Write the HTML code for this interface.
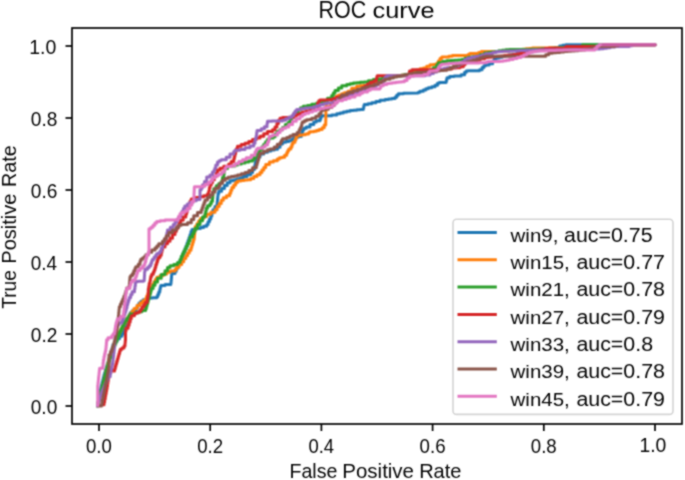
<!DOCTYPE html><html><head><meta charset="utf-8"><style>html,body{margin:0;padding:0;background:#fff;width:685px;height:480px;overflow:hidden}svg{display:block}text{font-family:"Liberation Sans",sans-serif;fill:#000}</style></head><body>
<svg width="685" height="480" viewBox="0 0 685 480">
<defs><filter id="b" x="0" y="0" width="685" height="480" filterUnits="userSpaceOnUse" color-interpolation-filters="sRGB"><feConvolveMatrix order="3" kernelMatrix="1 2 1 2 4 2 1 2 1" edgeMode="duplicate" preserveAlpha="false"/></filter><filter id="c" x="0" y="0" width="685" height="480" filterUnits="userSpaceOnUse" color-interpolation-filters="sRGB"><feConvolveMatrix order="3" kernelMatrix="1 2 1 2 8 2 1 2 1" edgeMode="duplicate" preserveAlpha="false"/></filter></defs><g filter="url(#b)">
<rect width="685" height="480" fill="#fff"/>
<polyline points="97.5,406 97.5,404.667 98,404.667 98,402 98.5,402 98.5,399.333 99,399.333 99,396.75 99.5,396.75 99.5,394.25 100,394.25 100,391.75 100.5,391.75 100.5,389.25 101,389.25 101,386.8 101.6,386.8 101.6,384.4 102.2,384.4 102.2,382 102.8,382 102.8,379.6 103.4,379.6 103.4,377.2 104,377.2 104,374.75 104.75,374.75 104.75,372.25 105.5,372.25 105.5,369.75 106.25,369.75 106.25,367.25 107,367.25 107,364.75 107.75,364.75 107.75,362.25 108.5,362.25 108.5,359.75 109.25,359.75 109.25,357.25 110,357.25 110,354.75 110.75,354.75 110.75,352.25 111.5,352.25 111.5,349.75 112.25,349.75 112.25,347.25 113,347.25 113,344.5 115,344.5 115,341.5 117,341.5 117,338.75 119.45,338.75 119.45,336.25 121.9,336.25 121.9,333.95 122.95,333.95 122.95,331.85 124,331.85 124,329.5 125,329.5 125,326.9 126,326.9 126,324.3 127.05,324.3 127.05,321.7 128.1,321.7 128.1,319.183 128.8,319.183 128.8,316.75 129.5,316.75 129.5,314.317 130.2,314.317 130.2,312.7 132.2,312.7 132.2,310.75 135.8,310.75 135.8,307.9 137.4,307.9 137.4,305.3 139,305.3 139,302.95 141,302.95 141,301.35 143.1,301.35 143.1,299.8 146.2,299.8 146.2,298.525 149.35,298.525 149.35,297.975 152.5,297.975 152.5,297.7 156.7,297.7 156.7,296.65 157.725,296.65 157.725,294.55 158.75,294.55 158.75,291.95 159.8,291.95 159.8,289.362 160.3,289.362 160.3,287.287 160.8,287.287 160.8,285.375 165,285.375 165,284.5 170.8,284.5 170.8,283.225 171.05,283.225 171.05,280.675 171.3,280.675 171.3,278.125 171.55,278.125 171.55,275.575 171.8,275.575 171.8,273.4 175,273.4 175,271.188 176.25,271.188 176.25,268.562 177.5,268.562 177.5,265.938 178.75,265.938 178.75,263.312 180,263.312 180,260.8 181,260.8 181,258.4 182,258.4 182,256 183,256 183,253.6 184,253.6 184,251.2 185,251.2 185,248.625 186,248.625 186,245.875 187,245.875 187,243.125 188,243.125 188,240.375 189,240.375 189,237.625 190,237.625 190,234.688 191,234.688 191,231.562 192,231.562 192,229.475 196.2,229.475 196.2,228.425 200.4,228.425 200.4,227.375 203.55,227.375 203.55,226.325 206.7,226.325 206.7,224.417 208.067,224.417 208.067,221.65 209.433,221.65 209.433,218.883 210.8,218.883 210.8,215.938 211.85,215.938 211.85,212.812 212.9,212.812 212.9,209.688 214.95,209.688 214.95,206.562 217,206.562 217,203.7 217.25,203.7 217.25,201.1 217.5,201.1 217.5,198.5 217.75,198.5 217.75,195.9 218,195.9 218,193.55 218.8,193.55 218.8,191.125 221.6,191.125 221.6,188.375 224.4,188.375 224.4,185.575 227.2,185.575 227.2,182.725 230,182.725 230,180.825 233.3,180.825 233.3,179.875 236.6,179.875 236.6,178.925 239.9,178.925 239.9,177.975 243.2,177.975 243.2,176.575 246.95,176.575 246.95,174.725 250.7,174.725 250.7,172.4 252.55,172.4 252.55,169.6 254.4,169.6 254.4,167.025 254.875,167.025 254.875,164.675 255.35,164.675 255.35,162.325 255.825,162.325 255.825,159.975 256.3,159.975 256.3,156.9 260,156.9 260,154.075 263.75,154.075 263.75,152.225 267.5,152.225 267.5,150.875 270.833,150.875 270.833,150.025 274.167,150.025 274.167,149.175 277.5,149.175 277.5,147.188 280,147.188 280,144.062 282.5,144.062 282.5,142.188 285.625,142.188 285.625,141.562 288.75,141.562 288.75,140.625 292.5,140.625 292.5,138.75 295,138.75 295,137.188 298.125,137.188 298.125,136.562 301.25,136.562 301.25,135 301.875,135 301.875,132.5 302.5,132.5 302.5,130 303.75,130 303.75,128.125 306.25,128.125 306.25,126.875 310,126.875 310,124.375 313.75,124.375 313.75,121.875 316.25,121.875 316.25,120.625 320,120.625 320,118.95 320.85,118.95 320.85,116.85 321.7,116.85 321.7,115.8 331.7,115.8 331.7,115 336.7,115 336.7,113.775 340,113.775 340,112.925 343.3,112.925 343.3,112.075 346.65,112.075 346.65,111.225 350,111.225 350,110.6 353.35,110.6 353.35,110.2 356.7,110.2 356.7,109.8 360,109.8 360,109.4 363.3,109.4 363.3,108.15 363.75,108.15 363.75,106.05 364.2,106.05 364.2,104.575 367.95,104.575 367.95,103.725 371.7,103.725 371.7,102.675 375.85,102.675 375.85,101.425 380,101.425 380,100.2 385,100.2 385,99.383 388.333,99.383 388.333,98.95 391.667,98.95 391.667,98.517 395,98.517 395,97.275 396.65,97.275 396.65,95.225 398.3,95.225 398.3,93.75 403.3,93.75 403.3,93.3 418.3,92.9 418.3,92.3 420,92.3 420,91.25 423.3,91.25 423.3,90 425.8,90 425.8,88.75 428.3,88.75 428.3,87.7 431.7,87.7 431.7,86.675 435,86.675 435,85.225 437.5,85.225 437.5,83.35 439.2,83.35 439.2,82.5 446,82.5 446,81.525 446.5,81.525 446.5,79.575 447,79.575 447,77.7 449.6,77.7 449.6,76.4 454,76.4 454,76 461.1,76 461.1,74.65 464.6,74.65 464.6,72.2 466.3,72.2 466.3,71.1 469,70.7 479.5,70.7 479.5,69.8 482.1,69.8 482.1,67.6 483.9,67.6 483.9,65.85 485.6,65.85 485.6,65 489.1,65 489.1,63.7 492.6,63.7 492.6,61.05 494.4,61.05 494.4,58.85 496.1,58.85 496.1,58 499.067,58 499.067,57.2 502.033,57.2 502.033,56.4 505,56.4 505,55.688 508.75,55.688 508.75,55.062 512.5,55.062 512.5,54.438 516.25,54.438 516.25,53.812 520,53.812 520,53.25 523.333,53.25 523.333,52.75 526.667,52.75 526.667,52.25 530,52.25 530,51.75 533.333,51.75 533.333,51.25 536.667,51.25 536.667,50.75 540,50.75 540,50.25 543.75,50.25 543.75,49.75 547.5,49.75 547.5,49.25 551.25,49.25 551.25,48.75 555,48.75 555,47.5 559.6,47.5 559.6,46.05 562.7,46.05 562.7,45.15 565.8,45.15 565.8,44.7 655,44.7" fill="none" stroke="#1f77b4" stroke-width="3.0" stroke-linejoin="round" stroke-linecap="round"/>
<polyline points="97.5,406 97.5,404.75 98.125,404.75 98.125,402.25 98.75,402.25 98.75,399.75 99.375,399.75 99.375,397.25 100,397.25 100,394.625 100.75,394.625 100.75,391.875 101.5,391.875 101.5,389.125 102.25,389.125 102.25,386.375 103,386.375 103,383.7 103.6,383.7 103.6,381.1 104.2,381.1 104.2,378.5 104.8,378.5 104.8,375.9 105.4,375.9 105.4,373.3 106,373.3 106,370.8 106.6,370.8 106.6,368.4 107.2,368.4 107.2,366 107.8,366 107.8,363.6 108.4,363.6 108.4,361.2 109,361.2 109,358.8 109.8,358.8 109.8,356.4 110.6,356.4 110.6,354 111.4,354 111.4,351.6 112.2,351.6 112.2,349.2 113,349.2 113,346.75 114,346.75 114,344.25 115,344.25 115,341.75 116,341.75 116,339.25 117,339.25 117,336.75 118.25,336.75 118.25,334.25 119.5,334.25 119.5,331.75 120.75,331.75 120.75,329.25 122,329.25 122,326.75 123.5,326.75 123.5,324.25 125,324.25 125,321.75 126.5,321.75 126.5,319.25 128,319.25 128,316.667 130,316.667 130,314 132,314 132,311.333 134,311.333 134,308.5 137,308.5 137,305.5 140,305.5 140,302.9 142.8,302.9 142.8,300.7 145.6,300.7 145.6,298.4 146.7,298.4 146.7,296 147.8,296 147.8,293.6 148.9,293.6 148.9,291.2 150,291.2 150,288.8 151.36,288.8 151.36,286.4 152.72,286.4 152.72,284 154.08,284 154.08,281.6 155.44,281.6 155.44,279.2 156.8,279.2 156.8,277.188 160.1,277.188 160.1,275.562 163.4,275.562 163.4,273.938 166.7,273.938 166.7,272.312 170,272.312 170,271.05 175,271.05 175,269.55 176.5,269.55 176.5,267.2 179.1,267.2 179.1,264.6 181.7,264.6 181.7,261.725 183.75,261.725 183.75,258.575 185.8,258.575 185.8,255.625 187.533,255.625 187.533,252.875 189.267,252.875 189.267,250.125 191,250.125 191,247.444 191.8,247.444 191.8,244.831 192.6,244.831 192.6,242.219 193.4,242.219 193.4,239.606 194.2,239.606 194.2,237 194.45,237 194.45,234.4 194.7,234.4 194.7,231.8 194.95,231.8 194.95,229.2 195.2,229.2 195.2,226.517 196.933,226.517 196.933,223.75 198.667,223.75 198.667,220.983 200.4,220.983 200.4,218.55 203.55,218.55 203.55,216.45 206.7,216.45 206.7,214.363 210.85,214.363 210.85,212.288 215,212.288 215,209.688 217.1,209.688 217.1,206.562 219.2,206.562 219.2,203.438 221.25,203.438 221.25,200.312 223.3,200.312 223.3,197.713 226.45,197.713 226.45,195.637 229.6,195.637 229.6,193.15 230.75,193.15 230.75,190.25 231.9,190.25 231.9,187.55 233.767,187.55 233.767,185.05 235.633,185.05 235.633,182.55 237.5,182.55 237.5,181.062 240.8,181.062 240.8,180.588 244.1,180.588 244.1,180.113 247.4,180.113 247.4,179.638 250.7,179.638 250.7,178.467 253.8,178.467 253.8,176.6 256.9,176.6 256.9,174.733 260,174.733 260,172.55 261.9,172.55 261.9,170.05 263.8,170.05 263.8,167.55 265.7,167.55 265.7,164.4 269.4,164.4 269.4,161.875 273.35,161.875 273.35,160.625 277.3,160.625 277.3,158.95 279.4,158.95 279.4,157.65 282,157.65 282,157.15 284.6,157.15 284.6,155.325 286.7,155.325 286.7,152.725 287.7,152.725 287.7,150.65 288.75,150.65 288.75,149.05 290.8,149.05 290.8,146.95 291.9,146.95 291.9,144.35 292.9,144.35 292.9,142.275 295,142.275 295,139.675 296,139.675 296,137.05 297.1,137.05 297.1,135.5 300.2,135.5 300.2,134.875 302.8,134.875 302.8,134.625 305.4,134.625 305.4,133.95 308.5,133.95 308.5,132.65 309.6,132.65 309.6,131.65 313.75,131.65 313.75,131.125 316.375,131.125 316.375,130.575 319,130.575 319,129.525 322.1,129.525 322.1,127.725 324.2,127.725 324.2,125.1 325.7,125.1 325.7,123.5 326,107 326,106.25 331,106.25 331,104.125 332,104.125 332,101.375 333,101.375 333,98.375 336.1,98.375 336.1,96.125 338.6,96.125 338.6,94.875 341.75,94.875 341.75,93.625 344.25,93.625 344.25,92.7 348,92.7 348,91.2 351.7,91.2 351.7,88.35 356.7,88.35 356.7,86.25 360,86.25 360,85.667 363.333,85.667 363.333,85.4 366.667,85.4 366.667,85.133 370,85.133 370,84.175 374.15,84.175 374.15,82.525 378.3,82.525 378.3,81.075 381.65,81.075 381.65,79.825 385,79.825 385,77.95 390,77.95 390,76.487 393.75,76.487 393.75,76.062 397.5,76.062 397.5,75.638 401.25,75.638 401.25,75.213 405,75.213 405,74.375 409.15,74.375 409.15,73.125 413.3,73.125 413.3,71.675 416.65,71.675 416.65,70.025 420,70.025 420,68.775 423.35,68.775 423.35,67.925 426.7,67.925 426.7,66.25 430,66.25 430,64.8 433.35,64.8 433.35,64.4 436.7,64.4 436.7,63.15 438.35,63.15 438.35,61.05 440,61.05 440,58.55 441.8,58.55 441.8,57.1 448.8,57.1 448.8,56.25 452.3,56.25 452.3,55.4 468.1,55.4 468.1,54.5 469.8,54.5 469.8,53.6 478.6,53.6 478.6,52.5 481.2,52.5 481.2,51.4 496.1,51.4 506.5,51.2 506.5,51.017 509.722,51.017 509.722,50.65 512.944,50.65 512.944,50.283 516.167,50.283 516.167,49.917 519.389,49.917 519.389,49.55 522.611,49.55 522.611,49.183 525.833,49.183 525.833,48.817 529.056,48.817 529.056,48.45 532.278,48.45 532.278,48.083 535.5,48.083 535.5,47.9 548.6,47.9 548.6,47.862 551.9,47.862 551.9,47.787 555.2,47.787 555.2,47.712 558.5,47.712 558.5,47.637 561.8,47.637 561.8,47.562 565.1,47.562 565.1,47.487 568.4,47.487 568.4,47.412 571.7,47.412 571.7,47.337 575,47.337 575,47.3 600,47.3 600,46.65 603,46.65 603,45.35 606,45.35 606,44.7 655,44.7" fill="none" stroke="#ff7f0e" stroke-width="3.0" stroke-linejoin="round" stroke-linecap="round"/>
<polyline points="97.5,406 97.5,404.625 98.125,404.625 98.125,401.875 98.75,401.875 98.75,399.125 99.375,399.125 99.375,396.375 100,396.375 100,393.625 100.75,393.625 100.75,390.875 101.5,390.875 101.5,388.125 102.25,388.125 102.25,385.375 103,385.375 103,382.8 103.6,382.8 103.6,380.4 104.2,380.4 104.2,378 104.8,378 104.8,375.6 105.4,375.6 105.4,373.2 106,373.2 106,370.75 106.75,370.75 106.75,368.25 107.5,368.25 107.5,365.75 108.25,365.75 108.25,363.25 109,363.25 109,360.75 109.75,360.75 109.75,358.25 110.5,358.25 110.5,355.75 111.25,355.75 111.25,353.25 112,353.25 112,350.75 113,350.75 113,348.25 114,348.25 114,345.75 115,345.75 115,343.25 116,343.25 116,340.75 117,340.75 117,338.25 118,338.25 118,335.75 119,335.75 119,333.25 120,333.25 120,330.75 121.25,330.75 121.25,328.25 122.5,328.25 122.5,325.75 123.75,325.75 123.75,323.25 125,323.25 125,320.767 126.867,320.767 126.867,318.3 128.733,318.3 128.733,315.833 130.6,315.833 130.6,314.025 134.35,314.025 134.35,312.875 138.1,312.875 138.1,311.725 141.85,311.725 141.85,310.575 145.6,310.575 145.6,308.75 146.306,308.75 146.306,306.25 147.013,306.25 147.013,303.75 147.719,303.75 147.719,301.25 148.425,301.25 148.425,298.75 149.131,298.75 149.131,296.25 149.838,296.25 149.838,293.75 150.544,293.75 150.544,291.25 151.25,291.25 151.25,288.438 153.125,288.438 153.125,285.312 155,285.312 155,281.875 157.5,281.875 157.5,278.125 161.25,278.125 161.25,274.375 165,274.375 165,270.625 167.5,270.625 167.5,267.5 170,267.5 170,265.625 173.75,265.625 173.75,264.375 177.5,264.375 177.5,262.5 180,262.5 180,259.375 181.25,259.375 181.25,256.25 182.5,256.25 182.5,253.75 183.75,253.75 183.75,251.25 185,251.25 185,248.75 186.25,248.75 186.25,246.25 187.5,246.25 187.5,243.75 188.75,243.75 188.75,240.625 190,240.625 190,236.875 192.5,236.875 192.5,233.75 193.75,233.75 193.75,231.25 195,231.25 195,228.125 197.5,228.125 197.5,224.375 200,224.375 200,220.625 202.5,220.625 202.5,216.875 205,216.875 205,213.75 205.625,213.75 205.625,211.25 206.25,211.25 206.25,208.125 207.5,208.125 207.5,205.625 210,205.625 210,203.75 211.25,203.75 211.25,201.25 212.5,201.25 212.5,198.438 212.8,198.438 212.8,195.312 213.1,195.312 213.1,191.875 213.75,191.875 213.75,188.75 216.25,188.75 216.25,185.625 218.75,185.625 218.75,183.75 220,183.5 220,183 221.7,183 221.7,180.625 222.5,180.625 222.5,177.5 223.75,177.5 223.75,174.688 224.075,174.688 224.075,171.562 224.4,171.562 224.4,168.45 227.5,168.45 227.5,166.575 231.25,166.575 231.25,165.925 235,165.925 235,165 237.5,165 237.5,163.925 241.25,163.925 241.25,162.975 245,162.975 245,162.025 248.75,162.025 248.75,161.075 252.5,161.075 252.5,159.367 254.4,159.367 254.4,156.9 256.3,156.9 256.3,154.433 258.2,154.433 258.2,151.933 260.067,151.933 260.067,149.4 261.933,149.4 261.933,146.867 263.8,146.867 263.8,144.35 265.667,144.35 265.667,141.85 267.533,141.85 267.533,139.35 269.4,139.35 269.4,138.1 273.2,138.1 273.2,136.7 275.1,136.7 275.1,133.9 277,133.9 277,131.575 279.75,131.575 279.75,129.725 282.5,129.725 282.5,127.375 285.35,127.375 285.35,124.525 288.2,124.525 288.2,122.4 290,122.4 290,120.3 291.667,120.3 291.667,117.5 293.333,117.5 293.333,114.7 295,114.7 295,112.2 297.767,112.2 297.767,110 300.533,110 300.533,107.8 303.3,107.8 303.3,106.275 307.5,106.275 307.5,105.425 311.7,105.425 311.7,104.15 316.7,104.15 316.7,103.1 320,103.1 320,102.7 323.3,102.7 323.3,101.05 327.5,101.05 327.5,98.15 331.7,98.15 331.7,95.45 333.35,95.45 333.35,92.95 335,92.95 335,90.45 338.35,90.45 338.35,87.95 341.7,87.95 341.7,85.85 346.7,85.85 346.7,84.575 350,84.575 350,83.725 353.3,83.725 353.3,83.1 356.65,83.1 356.65,82.7 360,82.7 360,82.3 364.15,82.3 364.15,81.9 368.3,81.9 368.3,80.85 373.3,80.85 373.3,79.6 378.3,79.6 378.3,78.917 382.2,78.917 382.2,78.35 386.1,78.35 386.1,77.783 390,77.783 390,77.188 393.75,77.188 393.75,76.562 397.5,76.562 397.5,75.938 401.25,75.938 401.25,75.312 405,75.312 405,74.575 409.15,74.575 409.15,73.725 413.3,73.725 413.3,73.05 416.64,73.05 416.64,72.55 419.98,72.55 419.98,72.05 423.32,72.05 423.32,71.55 426.66,71.55 426.66,71.05 430,71.05 430,69.775 433.35,69.775 433.35,67.725 436.7,67.725 436.7,65 438.3,65 438.3,62.675 442.5,62.675 442.5,61.425 446.7,61.425 446.7,60.7 450.45,60.7 450.45,60.5 454.2,60.5 454.2,60.3 457.95,60.3 457.95,60.1 461.7,60.1 461.7,59.375 465,59.375 465,58.125 468.3,58.125 468.3,57.25 472.2,57.25 472.2,56.75 476.1,56.75 476.1,56.25 480,56.25 480,54.7 484.6,54.7 484.6,53.114 488.114,53.114 488.114,52.543 491.629,52.543 491.629,51.971 495.143,51.971 495.143,51.4 498.657,51.4 498.657,50.829 502.171,50.829 502.171,50.257 505.686,50.257 505.686,49.686 509.2,49.686 509.2,49.4 531.3,49.4 531.3,49.319 534.662,49.319 534.662,49.158 538.023,49.158 538.023,48.996 541.385,48.996 541.385,48.835 544.746,48.835 544.746,48.673 548.108,48.673 548.108,48.512 551.469,48.512 551.469,48.35 554.831,48.35 554.831,48.188 558.192,48.188 558.192,48.027 561.554,48.027 561.554,47.865 564.915,47.865 564.915,47.704 568.277,47.704 568.277,47.542 571.638,47.542 571.638,47.381 575,47.381 575,47.3 582,47.3 582,46 582.5,46 582.5,44.7 655,44.7" fill="none" stroke="#2ca02c" stroke-width="3.0" stroke-linejoin="round" stroke-linecap="round"/>
<polyline points="101.5,405.6 101.5,404.675 104,404.675 104,402.188 104.625,402.188 104.625,399.062 105.25,399.062 105.25,396.25 105.713,396.25 105.713,393.75 106.175,393.75 106.175,391.25 106.638,391.25 106.638,388.75 107.1,388.75 107.1,386.2 107.517,386.2 107.517,383.6 107.933,383.6 107.933,381 108.35,381 108.35,378.4 108.767,378.4 108.767,375.8 109.183,375.8 109.183,373.2 109.6,373.2 109.6,370.95 114.6,370.95 114.6,368.75 115.25,368.75 115.25,366.25 115.971,366.25 115.971,363.75 116.693,363.75 116.693,361.25 117.414,361.25 117.414,358.75 118.136,358.75 118.136,356.25 118.857,356.25 118.857,353.75 119.579,353.75 119.579,351.25 120.3,351.25 120.3,349.25 122,349.25 122,348 124,348 124,345.95 125,345.95 125,343.1 125.25,343.1 125.25,340.5 125.5,340.5 125.5,331.35 126,331.35 126,328.25 128.1,328.25 128.1,325.125 129.15,325.125 129.15,321.975 130.2,321.975 130.2,318.85 131.25,318.85 131.25,315.75 134.4,315.75 134.4,313.6 136.5,313.6 136.5,312.55 139.4,312.55 139.4,311.1 140.75,311.1 140.75,309.1 142.1,309.1 142.1,307.075 143.65,307.075 143.65,305.025 145.2,305.025 145.2,302.4 147.3,302.4 147.3,299.25 147.8,299.25 147.8,296.15 148.3,296.15 148.3,288.75 148.75,288.75 148.75,286.25 149.2,286.25 149.2,283.35 150,283.35 150,280.65 150.4,280.65 150.4,278.55 150.8,278.55 150.8,276.25 151.7,276.25 151.7,274.15 153.3,274.15 153.3,272.05 154.2,272.05 154.2,270 155,270 155,267.5 155.8,267.5 155.8,264.55 156.7,264.55 156.7,262.05 157.5,262.05 157.5,259.55 158.3,259.55 158.3,257.5 160,257.5 160,255.225 161.25,255.225 161.25,252.5 161.875,252.5 161.875,250 162.5,250 162.5,246.875 165,246.875 165,243.75 167.5,243.75 167.5,241.25 170,241.25 170,238.125 172.5,238.125 172.5,234.375 175,234.375 175,231.15 176.4,231.15 176.4,228.45 177.8,228.45 177.8,225.75 179.2,225.75 179.2,223.05 180.6,223.05 180.6,220.125 183.2,220.125 183.2,216.975 185.8,216.975 185.8,214.11 186.64,214.11 186.64,211.53 187.48,211.53 187.48,208.95 188.32,208.95 188.32,206.37 189.16,206.37 189.16,203.79 190,203.79 190,201.25 191.25,201.25 191.25,199 196,199 196,197.562 199.875,197.562 199.875,196.688 203.75,196.688 203.75,195.625 207.5,195.625 207.5,193.75 208.75,193.75 208.75,190.938 209.375,190.938 209.375,187.812 210,187.812 210,185 211.25,185 211.25,182.5 212.5,182.5 212.5,179.688 214.375,179.688 214.375,176.562 216.25,176.562 216.25,173.125 217.5,173.125 217.5,170 220,170 220,168.125 223.75,168.125 223.75,166.25 228.75,166.25 228.75,164.05 231.25,164.05 231.25,161.55 233.75,161.55 233.75,158.75 234.375,158.75 234.375,156.25 235,156.25 235,153.75 235.625,153.75 235.625,151.25 236.25,151.25 236.25,148.75 237.5,148.75 237.5,146.25 241.25,146.25 241.25,144.375 245,144.375 245,143.125 248.75,143.125 248.75,141.55 252.5,141.55 252.5,139.55 256.3,139.55 256.3,138 260,138 260,136.25 263.75,136.25 263.75,133.75 267.5,133.75 267.5,131.55 272.5,131.55 272.5,129.675 275,129.675 275,126.875 276.9,126.875 276.9,123.438 278.45,123.438 278.45,120.312 280,120.312 280,118.125 282.5,118.125 282.5,117.5 288.75,117.5 288.75,117.2 293.75,117.2 293.75,115.95 296.25,115.95 296.25,114.375 300,114.375 300,113.125 302.5,113.125 302.5,111.875 306.25,111.875 306.25,110.925 310,110.925 310,109.675 313.75,109.675 313.75,106.875 317.5,106.875 317.5,103.125 318.75,103.125 318.75,100.625 320,100.625 320,100 326.7,100 326.7,99.8 330,99.8 330,99.4 333.3,99.4 333.3,98.575 336.65,98.575 336.65,97.325 340,97.325 340,96.417 343.333,96.417 343.333,95.85 346.667,95.85 346.667,95.283 350,95.283 350,94.575 354.15,94.575 354.15,93.725 358.3,93.725 358.3,92.2 360.533,92.2 360.533,90 362.767,90 362.767,87.8 365,87.8 365,86.05 367.5,86.05 367.5,84.1 370.2,84.1 370.2,82.35 373.7,82.35 373.7,81.05 376.3,81.05 376.3,79.1 376.75,79.1 376.75,76.9 377.2,76.9 377.2,75.8 409,75.8 409,73.9 409.5,73.9 409.5,70.9 412,70.9 412,69.8 446.7,69.8 446.7,69.05 451.7,69.05 451.7,68.1 455.85,68.1 455.85,67.7 460,67.7 460,66.65 463.3,66.65 463.3,64.775 465,64.775 465,62.725 466.7,62.725 466.7,61.488 470.025,61.488 470.025,61.062 473.35,61.062 473.35,60.638 476.675,60.638 476.675,60.213 480,60.213 480,58.85 484.6,58.85 484.6,57.539 487.844,57.539 487.844,57.217 491.089,57.217 491.089,56.894 494.333,56.894 494.333,56.572 497.578,56.572 497.578,56.25 500.822,56.25 500.822,55.928 504.067,55.928 504.067,55.606 507.311,55.606 507.311,55.283 510.556,55.283 510.556,54.961 513.8,54.961 513.8,54.47 517.28,54.47 517.28,53.81 520.76,53.81 520.76,53.15 524.24,53.15 524.24,52.49 527.72,52.49 527.72,51.83 531.2,51.83 531.2,51.17 534.68,51.17 534.68,50.51 538.16,50.51 538.16,49.85 541.64,49.85 541.64,49.19 545.12,49.19 545.12,48.53 548.6,48.53 548.6,48.2 564.9,47.9 564.9,47.15 566.2,47.15 566.2,46.4 600,46.4 600,45.55 605,45.55 605,44.7 655,44.7" fill="none" stroke="#d62728" stroke-width="3.0" stroke-linejoin="round" stroke-linecap="round"/>
<polyline points="97.5,406 97.5,404.5 98.25,404.5 98.25,401.5 99,401.5 99,398.667 100,398.667 100,396 101,396 101,393.333 102,393.333 102,390.833 103,390.833 103,388.5 104,388.5 104,386.167 105,386.167 105,383.833 106,383.833 106,381.5 107,381.5 107,379.167 108,379.167 108,376.5 110.25,376.5 110.25,373.75 110.75,373.75 110.75,371.25 111.25,371.25 111.25,368.75 111.75,368.75 111.75,366.25 112.25,366.25 112.25,363.75 112.75,363.75 112.75,361.188 113.062,361.188 113.062,358.562 113.375,358.562 113.375,355.938 113.688,355.938 113.688,353.312 114,353.312 114,350.678 114.233,350.678 114.233,348.033 114.467,348.033 114.467,345.389 114.7,345.389 114.7,342.744 114.933,342.744 114.933,340.1 115.167,340.1 115.167,337.456 115.4,337.456 115.4,334.811 115.633,334.811 115.633,332.167 115.867,332.167 115.867,329.522 116.1,329.522 116.1,327.1 117.55,327.1 117.55,324.9 119,324.9 119,323.05 121.9,323.05 121.9,320.725 122.95,320.725 122.95,317.575 124,317.575 124,314.867 124.767,314.867 124.767,312.6 125.533,312.6 125.533,310.333 126.3,310.333 126.3,307.75 127,307.75 127,304.85 127.7,304.85 127.7,302.3 128.45,302.3 128.45,300.1 129.2,300.1 129.2,297.55 130.7,297.55 130.7,294.6 132.1,294.6 132.1,291.8 134.5,291.8 134.5,289.033 134.933,289.033 134.933,286.1 135.367,286.1 135.367,283.167 135.8,283.167 135.8,281.475 138.3,281.475 138.3,281.25 143.3,281.25 143.3,280.625 144.2,280.625 144.2,278.883 144.333,278.883 144.333,276.65 144.467,276.65 144.467,274.417 144.6,274.417 144.6,271.65 145,271.65 145,269.15 147.5,269.15 147.5,267.5 149.2,267.5 149.2,265.85 150.8,265.85 150.8,263.35 151.7,263.35 151.7,260.85 152.5,260.85 152.5,259.15 154.2,259.15 154.2,257.05 155.8,257.05 155.8,255 156.7,255 156.7,253.75 158.3,253.75 158.3,252.9 160,252.9 160,251.25 161.25,251.25 161.25,248.125 162.5,248.125 162.5,244.375 163.75,244.375 163.75,241.25 165,241.25 165,238.75 166.25,238.75 166.25,235.938 166.875,235.938 166.875,232.812 167.5,232.812 167.5,229.887 170.4,229.887 170.4,227.162 173.3,227.162 173.3,224.5 175.125,224.5 175.125,221.9 176.95,221.9 176.95,219.3 178.775,219.3 178.775,216.7 180.6,216.7 180.6,214 182,214 182,211.2 183.4,211.2 183.4,208.4 184.8,208.4 184.8,206 187.4,206 187.4,204 190,204 190,202.25 193.125,202.25 193.125,200.75 196.25,200.75 196.25,199.5 200,199.5 200,189.775 201.25,189.775 201.25,187.725 202.5,187.725 202.5,184.85 204.5,184.85 204.5,181.5 206.7,181.5 206.7,177.1 210,177.1 210,175 212.5,175 212.5,172.05 214.2,172.05 214.2,169.775 215,169.775 215,167.725 215.8,167.725 215.8,165 217.5,165 217.5,162.05 219.2,162.05 219.2,160.8 221.25,160.6 221.25,159.675 226.25,159.675 226.25,157.175 230,157.175 230,154.05 233.75,154.05 233.75,151.55 235,151.55 235,150.3 240,150.3 240,149.375 245,149.375 245,147.825 250,147.825 250,145.95 253.75,145.95 253.75,143.125 255,143.125 255,140.113 255.625,140.113 255.625,137.838 256.25,137.838 256.25,135.4 256.625,135.4 256.625,132.8 257,132.8 257,130.45 261.3,130.45 261.3,128.85 264.4,128.85 264.4,126.75 267,126.75 267,123.4 267.5,123.4 267.5,121.3 271.7,121.3 271.7,121 282.5,121 282.5,120.267 285.667,120.267 285.667,118.8 288.833,118.8 288.833,117.333 292,117.333 292,115.5 293.567,115.5 293.567,113.3 295.133,113.3 295.133,111.1 296.7,111.1 296.7,109.575 300.85,109.575 300.85,108.725 305,108.725 305,108.1 309.15,108.1 309.15,107.7 313.3,107.7 313.3,106.875 316.65,106.875 316.65,105.625 320,105.625 320,104.575 323.35,104.575 323.35,103.725 326.7,103.725 326.7,103.1 330.35,103.1 330.35,102.7 334,102.7 334,101.25 337.5,101.25 337.5,99.25 342.5,99.25 342.5,97.875 346.25,97.875 346.25,96.625 350,96.625 350,95.25 355,95.25 355,93.5 360,93.5 360,91.45 364.15,91.45 364.15,89.35 368.3,89.35 368.3,87.575 372.3,87.575 372.3,86.125 376.3,86.125 376.3,84.55 379,84.55 379,82.4 383.3,82.4 383.3,79.75 385.1,79.75 385.1,77.1 386.8,77.1 386.8,75.8 425,75.8 425,75 430,75 430,73.5 433.333,73.5 433.333,72.1 436.667,72.1 436.667,70.7 440,70.7 440,69.2 444,69.2 444,68.213 447,68.213 447,67.838 450,67.838 450,67.463 453,67.463 453,67.088 456,67.088 456,65.925 459,65.925 459,63.975 462,63.975 462,61.85 464.8,61.85 464.8,59.55 467.6,59.55 467.6,57.975 471.35,57.975 471.35,57.125 475.1,57.125 475.1,56.475 478.6,56.475 478.6,56.025 482.1,56.025 482.1,54.9 485.6,54.9 485.6,53.8 489.1,53.8 489.1,53.4 492.6,53.4 492.6,52.5 496.1,52.5 496.1,51.712 499.375,51.712 499.375,51.538 502.65,51.538 502.65,51.363 505.925,51.363 505.925,51.188 509.2,51.188 509.2,51.025 512.487,51.025 512.487,50.875 515.775,50.875 515.775,50.725 519.062,50.725 519.062,50.575 522.35,50.575 522.35,50.425 525.638,50.425 525.638,50.275 528.925,50.275 528.925,50.125 532.213,50.125 532.213,49.975 535.5,49.975 535.5,49.9 567.5,49.9 573.7,49.6 573.7,49.562 576.988,49.562 576.988,49.487 580.275,49.487 580.275,49.412 583.563,49.412 583.563,49.337 586.85,49.337 586.85,49.262 590.138,49.262 590.138,49.187 593.425,49.187 593.425,49.112 596.713,49.112 596.713,49.037 600,49.037 600,48.75 603.333,48.75 603.333,48.25 606.667,48.25 606.667,47.75 610,47.75 610,47.05 614.7,47.05 614.7,46.6 629.2,46.6 629.2,45.65 632,45.65 632,44.7 655,44.7" fill="none" stroke="#9467bd" stroke-width="3.0" stroke-linejoin="round" stroke-linecap="round"/>
<polyline points="99,406 101.5,406 101.5,404.667 102,404.667 102,402 102.5,402 102.5,399.333 103,399.333 103,396.75 103.5,396.75 103.5,394.25 104,394.25 104,391.75 104.5,391.75 104.5,389.25 105,389.25 105,386.75 105.5,386.75 105.5,384.25 106,384.25 106,381.75 106.5,381.75 106.5,379.25 107,379.25 107,376.8 107.4,376.8 107.4,374.4 107.8,374.4 107.8,372 108.2,372 108.2,369.6 108.6,369.6 108.6,367.2 109,367.2 109,354.688 110.5,354.688 110.5,351.562 112,351.562 112,348.75 112.75,348.75 112.75,346.25 113.5,346.25 113.5,343.75 114.25,343.75 114.25,341.25 115,341.25 115,338.75 115.5,338.75 115.5,336.25 116,336.25 116,333.75 116.5,333.75 116.5,331.25 117,331.25 117,328.625 117.287,328.625 117.287,325.875 117.575,325.875 117.575,323.125 117.862,323.125 117.862,320.375 118.15,320.375 118.15,317.625 118.437,317.625 118.437,314.875 118.725,314.875 118.725,312.125 119.012,312.125 119.012,309.375 119.3,309.375 119.3,306.7 120.44,306.7 120.44,304.1 121.58,304.1 121.58,301.5 122.72,301.5 122.72,298.9 123.86,298.9 123.86,296.3 125,296.3 125,293.55 125.85,293.55 125.85,290.65 126.7,290.65 126.7,287.95 129.2,287.95 129.2,285.55 129.4,285.55 129.4,283.25 129.6,283.25 129.6,280.95 129.8,280.95 129.8,278.65 130,278.65 130,276.65 130.8,276.65 130.8,275.4 132.5,275.4 132.5,273.55 133.75,273.55 133.75,270.65 135,270.65 135,268.35 135.8,268.35 135.8,266.65 138.3,266.65 138.3,264.15 140,264.15 140,261.25 140.8,261.25 140.8,259.15 142.5,259.15 142.5,257.9 144.2,257.9 144.2,256.65 145.8,256.65 145.8,254.65 148.5,254.65 148.5,252.15 151.7,252.15 151.7,249.9 155,249.9 155,248 156.875,248 156.875,246 158.75,246 158.75,243.75 162.5,243.75 162.5,241.25 164.375,241.25 164.375,238.75 166.25,238.75 166.25,235.625 168.75,235.625 168.75,232.5 172.5,232.5 172.5,230 176.25,230 176.25,227.5 178.75,227.5 178.75,225.325 181.25,225.325 181.25,224.4 187.5,224.4 187.5,222.825 191.25,222.825 191.25,219.375 193.75,219.375 193.75,215.625 197.5,215.625 197.5,212.5 201.25,212.5 201.25,210 202.175,210 202.175,207.5 203.1,207.5 203.1,205 204.05,205 204.05,202.5 205,202.5 205,200 207.5,200 207.5,197.5 210,197.5 210,195 212.5,195 212.5,191.875 215,191.875 215,188.125 218.75,188.125 218.75,185.625 220,185.625 220,183.15 222.5,183.15 222.5,180.35 225.25,180.35 225.25,178.45 228,178.45 228,177.2 231.167,177.2 231.167,176.6 234.333,176.6 234.333,176 237.5,176 237.5,175.067 241.267,175.067 241.267,173.8 245.033,173.8 245.033,172.533 248.8,172.533 248.8,170.5 252.55,170.5 252.55,167.7 256.3,167.7 256.3,165.045 257.04,165.045 257.04,162.535 257.78,162.535 257.78,160.025 258.52,160.025 258.52,157.515 259.26,157.515 259.26,155.005 260,155.005 260,153.125 263.75,153.125 263.75,151.25 267.5,151.25 267.5,149.8 270,149.8 270,149.05 274.2,149.05 274.2,146.95 277.3,146.95 277.3,144.35 280.4,144.35 280.4,142.275 281.45,142.275 281.45,140.225 282.5,140.225 282.5,138.65 286.7,138.65 286.7,137.6 289.8,137.6 289.8,136.05 292.9,136.05 292.9,134.5 297.1,134.5 297.1,132.4 299.2,132.4 299.2,129.775 300.225,129.775 300.225,127.725 301.25,127.725 301.25,125.65 301.775,125.65 301.775,123.55 302.3,123.55 302.3,122 304.4,122 304.4,120.7 306.5,120.7 306.5,119.775 309.1,119.775 309.1,119.525 311.7,119.525 311.7,118.35 315.8,118.35 315.8,116.25 319,116.25 319,113.65 321,113.65 321,111.05 322.1,111.05 322.1,110 325,110 325,109.175 328.35,109.175 328.35,107.525 331.7,107.525 331.7,105.45 334.2,105.45 334.2,102.95 336.7,102.95 336.7,100.45 339.2,100.45 339.2,97.95 341.7,97.95 341.7,95 346.7,95 346.7,92.9 350,92.9 350,92.1 353.3,92.1 353.3,90.85 357.5,90.85 357.5,89.15 361.7,89.15 361.7,87.9 365.85,87.9 365.85,87.1 370,87.1 370,85.85 374.15,85.85 374.15,84.15 378.3,84.15 378.3,82.475 381.65,82.475 381.65,80.825 385,80.825 385,79.15 390,79.15 390,77.9 393.35,77.9 393.35,77.1 396.7,77.1 396.7,76.36 400.02,76.36 400.02,75.68 403.34,75.68 403.34,75 406.66,75 406.66,74.32 409.98,74.32 409.98,73.64 413.3,73.64 413.3,73.135 416.64,73.135 416.64,72.805 419.98,72.805 419.98,72.475 423.32,72.475 423.32,72.145 426.66,72.145 426.66,71.815 430,71.815 430,71.485 433.34,71.485 433.34,71.155 436.68,71.155 436.68,70.825 440.02,70.825 440.02,70.495 443.36,70.495 443.36,70.165 446.7,70.165 446.7,69.25 450.025,69.25 450.025,67.75 453.35,67.75 453.35,66.25 456.675,66.25 456.675,64.75 460,64.75 460,63.567 463.333,63.567 463.333,62.7 466.667,62.7 466.667,61.833 470,61.833 470,60.9 473.333,60.9 473.333,59.9 476.667,59.9 476.667,58.9 480,58.9 480,57.85 482.9,57.85 482.9,56.75 485.8,56.75 485.8,56.2 545.7,56.2 545.7,54.75 548.6,54.75 548.6,53.125 552.25,53.125 552.25,52.775 555.9,52.775 555.9,52.4 559.8,52.4 559.8,52 563.7,52 563.7,51.6 567.6,51.6 567.6,51.25 571.08,51.25 571.08,50.95 574.56,50.95 574.56,50.65 578.04,50.65 578.04,50.35 581.52,50.35 581.52,50.05 585,50.05 585,49.487 588.375,49.487 588.375,48.662 591.75,48.662 591.75,47.837 595.125,47.837 595.125,47.012 598.5,47.012 598.5,46.6 614.7,46.6 614.7,45.65 618,45.65 618,44.7 655,44.7" fill="none" stroke="#8c564b" stroke-width="3.0" stroke-linejoin="round" stroke-linecap="round"/>
<polyline points="97.75,405.6 97.75,385 98.014,385 98.014,382.5 98.279,382.5 98.279,380 98.543,380 98.543,377.5 98.807,377.5 98.807,375 99.071,375 99.071,372.5 99.336,372.5 99.336,370 99.6,370 99.6,368.125 102.75,368.125 102.75,365.938 103.075,365.938 103.075,362.812 103.4,362.812 103.4,359.688 104,359.688 104,356.562 104.6,356.562 104.6,353.75 105.2,353.75 105.2,351.25 105.8,351.25 105.8,348.55 106.067,348.55 106.067,345.65 106.333,345.65 106.333,342.75 106.6,342.75 106.6,339.85 108,339.85 108,337.65 111.7,337.65 111.7,335.825 113.15,335.825 113.15,333.675 114.6,333.675 114.6,331.133 115.1,331.133 115.1,328.2 115.6,328.2 115.6,325.267 116.1,325.267 116.1,322.7 116.8,322.7 116.8,320.5 117.5,320.5 117.5,318.7 120.4,318.7 120.4,316.5 123.4,316.5 123.4,313.55 123.75,313.55 123.75,310.65 124.1,310.65 124.1,307.75 124.45,307.75 124.45,304.85 124.8,304.85 124.8,301.925 125.15,301.925 125.15,298.975 125.5,298.975 125.5,296.05 125.9,296.05 125.9,293.15 126.3,293.15 126.3,290.85 126.7,290.85 126.7,288.35 130,288.35 130,285 130.8,285 130.8,282.05 132.5,282.05 132.5,280 135,280 135,278.15 135.85,278.15 135.85,276.05 136.7,276.05 136.7,273.35 137.5,273.35 137.5,270.45 140,270.45 140,268.35 142.5,268.35 142.5,266.25 144.2,266.25 144.2,264.15 145,264.15 145,261.65 145.8,261.65 145.8,258.35 146.7,258.35 146.7,255 148.3,255 148.3,252.4 149,252.4 149,228.85 151,228.85 151,227.35 153,227.35 153,225.3 154.85,225.3 154.85,222.9 156.7,222.9 156.7,221.475 160,221.475 160,220.625 165,220.625 165,220 177.5,220 177.5,218.75 178.75,218.75 178.75,216.25 180,216.25 180,213.75 181.9,213.75 181.9,212.2 185,212.2 185,210.95 187.5,210.95 187.5,208.45 190,208.45 190,205 191.9,205 191.9,201.55 193.8,201.55 193.8,198.67 193.92,198.67 193.92,196.01 194.04,196.01 194.04,193.35 194.16,193.35 194.16,190.69 194.28,190.69 194.28,188.03 194.4,188.03 194.4,186.7 201.7,186.7 201.7,186.25 205,186.25 205,184.55 208.3,184.55 208.3,182.5 210.8,182.5 210.8,180.45 212.5,180.45 212.5,177.95 215,177.95 215,175.85 218.3,175.85 218.3,174.15 221.7,174.15 221.7,172.15 224,172.15 224,169.975 225.125,169.975 225.125,167.925 226.25,167.925 226.25,166.575 231.25,166.575 231.25,165.625 235,165.625 235,163.75 238.75,163.75 238.75,161.55 242.5,161.55 242.5,159.675 246.25,159.675 246.25,157.825 251.25,157.825 251.25,155.325 255,155.325 255,151.875 256.25,151.875 256.25,149.375 257.5,149.375 257.5,148.125 262.5,148.125 262.5,146.875 265,146.875 265,145 267.5,145 267.5,141.875 268.75,141.875 268.75,138.15 269.4,138.15 269.4,136.3 272.5,136.25 272.5,135 277.5,135 277.5,132.5 280,132.5 280,130 282.5,130 282.5,128.125 285.625,128.125 285.625,126.875 288.75,126.875 288.75,124.375 292.5,124.375 292.5,121.25 296.25,121.25 296.25,118.75 300,118.75 300,116.25 302.5,116.25 302.5,114.375 305,114.375 305,113.125 308.75,113.125 308.75,111.875 312.5,111.875 312.5,110.625 316.25,110.625 316.25,109.375 320,109.375 320,108.438 323.75,108.438 323.75,107.812 327.5,107.812 327.5,106.875 332.5,106.875 332.5,105 335,105 335,102.5 337.5,102.5 337.5,100.625 342.5,100.625 342.5,99.375 346.25,99.375 346.25,98.125 350,98.125 350,96.875 355,96.875 355,95 360,95 360,93.125 362.5,93.125 362.5,91.875 367.5,91.875 367.5,90.125 370.2,90.125 370.2,89 379.8,89 379.8,87.65 380.7,87.65 380.7,85.85 383.3,85.85 383.3,84.55 386.8,84.55 386.8,83.575 389.45,83.575 389.45,83.325 392.1,83.325 392.1,82.8 395.6,82.8 395.6,82.25 398.533,82.25 398.533,81.95 401.467,81.95 401.467,81.65 404.4,81.65 404.4,80.4 407,80.4 407,78 409.6,78 409.6,76.2 413.6,76.2 413.6,75.7 423.8,75.7 423.8,74.6 428.2,74.6 428.2,72.4 429.6,72.4 429.6,71.1 433.25,71.1 433.25,70.7 436.9,70.7 436.9,69.45 438.4,69.45 438.4,66.9 440,66.9 440,65 441.8,65 441.8,64.367 445.3,64.367 445.3,63.9 448.8,63.9 448.8,63.433 452.3,63.433 452.3,63.18 455.63,63.18 455.63,63.14 458.96,63.14 458.96,63.1 462.29,63.1 462.29,63.06 465.62,63.06 465.62,63.02 468.95,63.02 468.95,62.98 472.28,62.98 472.28,62.94 475.61,62.94 475.61,62.9 478.94,62.9 478.94,62.86 482.27,62.86 482.27,62.82 485.6,62.82 485.6,62.15 487.4,62.15 487.4,61.5 500,61.5 500,61.233 503.067,61.233 503.067,60.7 506.133,60.7 506.133,60.167 509.2,60.167 509.2,59.417 513.1,59.417 513.1,58.45 517,58.45 517,57.483 520.9,57.483 520.9,56.267 523.8,56.267 523.8,54.8 526.7,54.8 526.7,53.333 529.6,53.333 529.6,52.35 532.533,52.35 532.533,51.85 535.467,51.85 535.467,51.35 538.4,51.35 538.4,51.025 541.938,51.025 541.938,50.875 545.475,50.875 545.475,50.725 549.013,50.725 549.013,50.575 552.55,50.575 552.55,50.425 556.088,50.425 556.088,50.275 559.625,50.275 559.625,50.125 563.163,50.125 563.163,49.975 566.7,49.975 566.7,49.9 594.7,49.9 594.7,48.6 596.9,48.6 596.9,46 599.1,46 599.1,44.7 655,44.7" fill="none" stroke="#e377c2" stroke-width="3.0" stroke-linejoin="round" stroke-linecap="round"/>
<line x1="603" y1="44.7" x2="655" y2="44.7" stroke="#c95ca1" stroke-width="3.0" stroke-linecap="round"/>
</g><g filter="url(#c)">
<rect x="72" y="28" width="610" height="396" fill="none" stroke="#000" stroke-width="1.7"/>
<line x1="65.5" y1="46" x2="72" y2="46" stroke="#000" stroke-width="1.7"/>
<line x1="65.5" y1="118" x2="72" y2="118" stroke="#000" stroke-width="1.7"/>
<line x1="65.5" y1="190" x2="72" y2="190" stroke="#000" stroke-width="1.7"/>
<line x1="65.5" y1="262" x2="72" y2="262" stroke="#000" stroke-width="1.7"/>
<line x1="65.5" y1="334" x2="72" y2="334" stroke="#000" stroke-width="1.7"/>
<line x1="65.5" y1="406" x2="72" y2="406" stroke="#000" stroke-width="1.7"/>
<line x1="99" y1="424" x2="99" y2="431" stroke="#000" stroke-width="1.7"/>
<line x1="210.2" y1="424" x2="210.2" y2="431" stroke="#000" stroke-width="1.7"/>
<line x1="321.4" y1="424" x2="321.4" y2="431" stroke="#000" stroke-width="1.7"/>
<line x1="432.6" y1="424" x2="432.6" y2="431" stroke="#000" stroke-width="1.7"/>
<line x1="543.8" y1="424" x2="543.8" y2="431" stroke="#000" stroke-width="1.7"/>
<line x1="655" y1="424" x2="655" y2="431" stroke="#000" stroke-width="1.7"/>
<g opacity="0.995">
<text transform="matrix(0.975 0 0 1.036 29.267 53.9)" font-size="20">1.0</text>
<text transform="matrix(0.955 0 0 1.043 30.766 125.9)" font-size="20">0.8</text>
<text transform="matrix(0.955 0 0 1.043 30.766 197.9)" font-size="20">0.6</text>
<text transform="matrix(0.947 0 0 1.043 30.772 269.9)" font-size="20">0.4</text>
<text transform="matrix(0.957 0 0 1.043 30.765 341.9)" font-size="20">0.2</text>
<text transform="matrix(0.953 0 0 1.043 30.768 413.9)" font-size="20">0.0</text>
<text transform="matrix(0.93 0 0 1.029 85.985 452.5)" font-size="20">0.0</text>
<text transform="matrix(0.934 0 0 1.029 197.182 452.5)" font-size="20">0.2</text>
<text transform="matrix(0.924 0 0 1.029 308.39 452.5)" font-size="20">0.4</text>
<text transform="matrix(0.933 0 0 1.029 419.583 452.5)" font-size="20">0.6</text>
<text transform="matrix(0.933 0 0 1.029 530.783 452.5)" font-size="20">0.8</text>
<text transform="matrix(0.967 0 0 1.036 639.479 452.4)" font-size="20">1.0</text>
<text transform="matrix(1.074 0 0 1.179 318.618 17.6)" font-size="20">ROC</text>
<text transform="matrix(1.267 0 0 1.145 372.576 17.6)" font-size="20">curve</text>
<text transform="matrix(0.981 0 0 1.033 289.473 477.7)" font-size="20">False</text>
<text transform="matrix(1.024 0 0 1.033 342.301 477.7)" font-size="20">Positive</text>
<text transform="matrix(1.003 0 0 1.014 419.135 477.7)" font-size="20">Rate</text>
<text transform="matrix(0 -0.958 1.014 0 15.8 308.742)" font-size="20">True</text>
<text transform="matrix(0 -1.004 0.987 0 15.8 263.765)" font-size="20">Positive</text>
<text transform="matrix(0 -0.987 1.014 0 15.8 187.037)" font-size="20">Rate</text>
<rect x="453" y="219.2" width="220" height="195.2" rx="3.5" fill="#fff" fill-opacity="0.8" stroke="#d4d4d4" stroke-width="1.6"/>
<line x1="457.5" y1="232.5" x2="496.8" y2="232.5" stroke="#1f77b4" stroke-width="3.0" stroke-linecap="butt"/>
<text transform="matrix(1.024 0 0 0.953 510.568 241.7)" font-size="20">win9,</text>
<text transform="matrix(1.069 0 0 1.021 564.015 241.7)" font-size="20">auc=0.75</text>
<line x1="457.5" y1="259.8" x2="496.8" y2="259.8" stroke="#ff7f0e" stroke-width="3.0" stroke-linecap="butt"/>
<text transform="matrix(1.024 0 0 0.953 510.568 269)" font-size="20">win15,</text>
<text transform="matrix(1.069 0 0 1.021 576.415 269)" font-size="20">auc=0.77</text>
<line x1="457.5" y1="287.1" x2="496.8" y2="287.1" stroke="#2ca02c" stroke-width="3.0" stroke-linecap="butt"/>
<text transform="matrix(1.024 0 0 0.953 510.568 296.3)" font-size="20">win21,</text>
<text transform="matrix(1.069 0 0 1.021 576.415 296.3)" font-size="20">auc=0.78</text>
<line x1="457.5" y1="314.4" x2="496.8" y2="314.4" stroke="#d62728" stroke-width="3.0" stroke-linecap="butt"/>
<text transform="matrix(1.024 0 0 0.953 510.568 323.6)" font-size="20">win27,</text>
<text transform="matrix(1.069 0 0 1.021 576.415 323.6)" font-size="20">auc=0.79</text>
<line x1="457.5" y1="341.7" x2="496.8" y2="341.7" stroke="#9467bd" stroke-width="3.0" stroke-linecap="butt"/>
<text transform="matrix(1.024 0 0 0.953 510.568 350.9)" font-size="20">win33,</text>
<text transform="matrix(1.069 0 0 1.021 576.415 350.9)" font-size="20">auc=0.8</text>
<line x1="457.5" y1="369" x2="496.8" y2="369" stroke="#8c564b" stroke-width="3.0" stroke-linecap="butt"/>
<text transform="matrix(1.024 0 0 0.953 510.568 378.2)" font-size="20">win39,</text>
<text transform="matrix(1.069 0 0 1.021 576.415 378.2)" font-size="20">auc=0.78</text>
<line x1="457.5" y1="396.3" x2="496.8" y2="396.3" stroke="#e377c2" stroke-width="3.0" stroke-linecap="butt"/>
<text transform="matrix(1.024 0 0 0.953 510.568 405.5)" font-size="20">win45,</text>
<text transform="matrix(1.069 0 0 1.021 576.415 405.5)" font-size="20">auc=0.79</text>
</g>
</g>
</svg></body></html>
